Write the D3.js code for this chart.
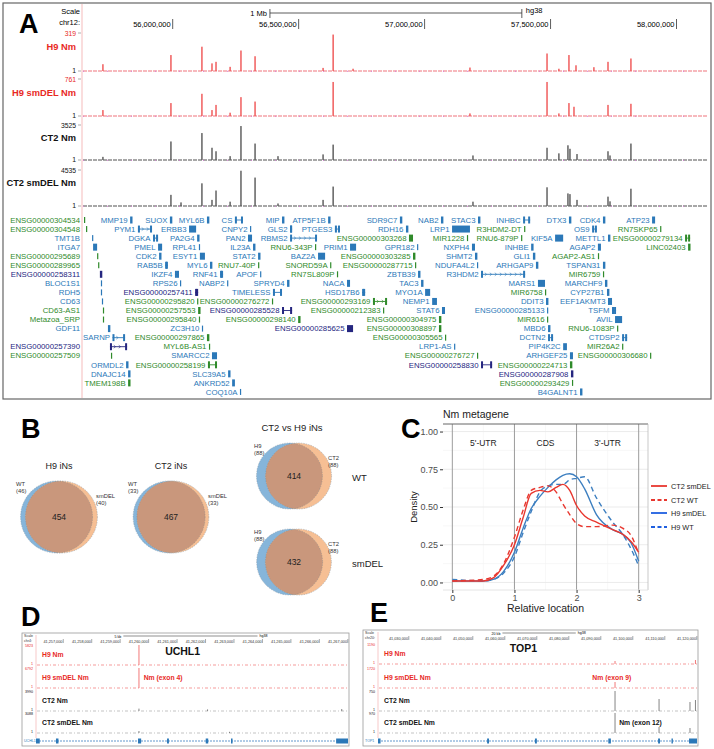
<!DOCTYPE html>
<html lang="en">
<head>
<meta charset="UTF-8">
<title>Nm figure</title>
<script src="https://cdn.jsdelivr.net/npm/d3@7"></script>
<style>
  body { margin: 0; background: #fff; font-family: "Liberation Sans", Arial, sans-serif; }
  svg { display: block; }
  text { font-family: "Liberation Sans", Arial, sans-serif; }
</style>
</head>
<body>
<svg id="fig" width="714" height="749"></svg>
<script>
// ---------------- data: panel A (chr12 browser) ----------------
const chromTicks = [56.0, 56.5, 57.0, 57.5, 58.0];
const trackNames = ["H9 Nm", "H9 smDEL Nm", "CT2 Nm", "CT2 smDEL Nm"];
const trackMax = [319, 761, 3525, 4535];
// [position Mb, signal]
const h9Nm = [[55.723,57],[55.993,134],[56.116,204],[56.156,64],[56.172,77],[56.228,35],[56.271,172],[56.327,124],[56.597,26],[56.637,306],[56.716,19],[57.180,29],[57.486,147],[57.533,19],[57.573,134],[57.601,48],[57.672,32],[57.728,77],[57.819,105]];
const h9SmDel = [[55.723,122],[55.993,266],[56.116,457],[56.156,122],[56.172,228],[56.228,68],[56.271,388],[56.327,297],[56.637,700],[57.180,53],[57.486,700],[57.533,53],[57.573,266],[57.593,190],[57.728,228],[57.819,251]];
const ct2Nm = [[55.723,317],[55.993,1868],[56.116,2714],[56.156,1234],[56.172,881],[56.228,388],[56.271,3419],[56.327,1657],[56.418,388],[56.597,564],[56.637,1551],[57.192,458],[57.486,1234],[57.533,670],[57.569,1481],[57.577,1128],[57.605,599],[57.728,881],[57.736,458],[57.819,1657]];
const ct2SmDel = [[55.993,1406],[56.033,454],[56.116,2857],[56.156,771],[56.172,1950],[56.228,544],[56.271,4444],[56.327,3583],[56.418,317],[56.597,771],[56.637,2449],[57.192,544],[57.486,2358],[57.569,1587],[57.577,1497],[57.605,771],[57.728,1179],[57.736,590],[57.819,2177]];
const trackSignals = [h9Nm, h9SmDel, ct2Nm, ct2SmDel];

// [name, start Mb, end Mb, row, biotype, structure]
const genes = [
  ["ENSG00000304534",55.648,55.648,0,"g","v"],["MMP19",55.831,55.834,0,"b","k"],["SUOX",55.989,55.991,0,"b","k"],["MYL6B",56.136,56.142,0,"b","k"],["CS",56.247,56.279,0,"b","i"],["MIP",56.434,56.436,0,"b","k"],["ATP5F1B",56.617,56.620,0,"b","k"],["SDR9C7",56.902,56.905,0,"b","k"],["NAB2",57.065,57.067,0,"b","k"],["STAC3",57.212,57.215,0,"b","k"],["INHBC",57.391,57.419,0,"b","i"],["DTX3",57.573,57.575,0,"b","k"],["CDK4",57.708,57.710,0,"b","k"],["ATP23",57.903,57.915,0,"b","k"],
  ["ENSG00000304548",55.656,55.656,1,"g","v"],["PYM1",55.862,55.918,1,"b","i"],["ERBB3",56.065,56.093,1,"b","k"],["CNPY2",56.307,56.307,1,"b","v"],["GLS2",56.466,56.474,1,"b","i"],["PTGES3",56.644,56.664,1,"b","i"],["RDH16",56.926,56.930,1,"b","k"],["LRP1",57.109,57.180,1,"b","k"],["R3HDM2-DT",57.395,57.395,1,"g","v"],["OS9",57.665,57.684,1,"b","i"],["RN7SKP65",57.935,57.935,1,"g","v"],
  ["TMT1B",55.680,55.680,2,"b","v"],["DGKA",55.922,55.942,2,"b","i"],["PA2G4",56.097,56.101,2,"b","k"],["PAN2",56.299,56.315,2,"b","k"],["RBMS2",56.466,56.573,2,"b","i"],["ENSG00000303268",56.938,56.954,2,"g","i"],["MIR1228",57.168,57.168,2,"g","v"],["RNU6-879P",57.383,57.383,2,"g","v"],["KIF5A",57.518,57.550,2,"b","k"],["METTL1",57.728,57.731,2,"b","k"],["ENSG00000279134",58.034,58.054,2,"g","i"],
  ["ITGA7",55.684,55.700,3,"b","k"],["PMEL",55.942,55.958,3,"b","k"],["RPL41",56.104,56.104,3,"b","v"],["IL23A",56.319,56.322,3,"b","k"],["RNU6-343P",56.565,56.565,3,"g","v"],["PRIM1",56.704,56.728,3,"b","k"],["GPR182",56.970,56.970,3,"b","v"],["NXPH4",57.188,57.200,3,"b","k"],["INHBE",57.423,57.426,3,"b","k"],["AGAP2",57.688,57.700,3,"b","k"],["LINC02403",58.046,58.048,3,"g","k"],
  ["ENSG00000295689",55.700,55.700,4,"g","v"],["CDK2",55.946,55.950,4,"b","k"],["ESYT1",56.108,56.128,4,"b","k"],["STAT2",56.339,56.345,4,"b","k"],["BAZ2A",56.577,56.605,4,"b","k"],["ENSG00000303285",56.954,56.956,4,"g","k"],["SHMT2",57.200,57.204,4,"b","k"],["GLI1",57.430,57.434,4,"b","k"],["AGAP2-AS1",57.688,57.688,4,"g","v"],
  ["ENSG00000289965",55.704,55.704,5,"g","v"],["RAB5B",55.970,55.981,5,"b","i"],["MYL6",56.148,56.152,5,"b","k"],["RNU7-40P",56.339,56.339,5,"g","v"],["SNORD59A",56.625,56.625,5,"g","v"],["ENSG00000287715",56.962,56.962,5,"g","v"],["NDUFA4L2",57.208,57.208,5,"b","v"],["ARHGAP9",57.442,57.446,5,"b","k"],["TSPAN31",57.708,57.711,5,"b","k"],
  ["ENSG00000258311",55.711,55.713,6,"n","k"],["IKZF4",56.009,56.025,6,"b","i"],["RNF41",56.188,56.200,6,"b","i"],["APOF",56.347,56.347,6,"b","v"],["RN7SL809P",56.652,56.652,6,"g","v"],["ZBTB39",56.974,56.977,6,"b","k"],["R3HDM2",57.224,57.399,6,"b","i"],["MIR6759",57.708,57.708,6,"g","v"],
  ["BLOC1S1",55.715,55.715,7,"b","v"],["RPS26",56.029,56.029,7,"b","v"],["NABP2",56.216,56.216,7,"b","v"],["SPRYD4",56.454,56.458,7,"b","k"],["NACA",56.692,56.704,7,"b","k"],["TAC3",56.986,56.990,7,"b","k"],["MARS1",57.450,57.478,7,"b","k"],["MARCHF9",57.716,57.719,7,"b","k"],
  ["RDH5",55.715,55.715,8,"b","v"],["ENSG00000257411",56.089,56.101,8,"n","i"],["TIMELESS",56.398,56.434,8,"b","i"],["HSD17B6",56.752,56.764,8,"b","i"],["MYO1A",57.002,57.022,8,"b","k"],["MIR6758",57.478,57.478,8,"g","v"],["CYP27B1",57.724,57.727,8,"b","k"],
  ["CD63",55.719,55.719,9,"b","v"],["ENSG00000295820",56.097,56.097,9,"g","v"],["ENSG00000276272",56.394,56.394,9,"g","v"],["ENSG00000293169",56.795,56.851,9,"g","i"],["NEMP1",57.030,57.049,9,"b","k"],["DDIT3",57.482,57.485,9,"b","k"],["EEF1AKMT3",57.728,57.744,9,"b","i"],
  ["CD63-AS1",55.723,55.723,10,"g","v"],["ENSG00000257553",56.101,56.104,10,"g","k"],["ENSG00000285528",56.434,56.474,10,"n","i"],["ENSG00000212383",56.835,56.835,10,"g","v"],["STAT6",57.069,57.081,10,"b","k"],["ENSG00000285133",57.486,57.486,10,"b","v"],["TSFM",57.744,57.760,10,"b","i"],
  ["Metazoa_SRP",55.723,55.723,11,"g","v"],["ENSG00000295840",56.104,56.104,11,"g","v"],["ENSG00000298140",56.498,56.501,11,"g","k"],["ENSG00000304975",57.057,57.059,11,"g","k"],["MIR616",57.486,57.486,11,"g","v"],["AVIL",57.756,57.784,11,"b","k"],
  ["GDF11",55.743,55.746,12,"b","k"],["ZC3H10",56.116,56.116,12,"b","v"],["ENSG00000285625",56.692,56.716,12,"n","k"],["ENSG00000308897",57.057,57.059,12,"g","k"],["MBD6",57.490,57.493,12,"b","k"],["RNU6-1083P",57.764,57.764,12,"g","v"],
  ["SARNP",55.761,55.811,13,"b","i"],["ENSG00000297865",56.136,56.139,13,"g","k"],["ENSG00000305565",57.081,57.081,13,"g","v"],["DCTN2",57.490,57.510,13,"b","i"],["CTDSP2",57.784,57.804,13,"b","i"],
  ["ENSG00000257390",55.751,55.819,14,"n","i"],["MYL6B-AS1",56.144,56.144,14,"g","v"],["LRP1-AS",57.117,57.117,14,"b","v"],["PIP4K2C",57.550,57.565,14,"b","k"],["MIR26A2",57.784,57.784,14,"g","v"],
  ["ENSG00000257509",55.755,55.755,15,"g","v"],["SMARCC2",56.156,56.176,15,"b","k"],["ENSG00000276727",57.208,57.208,15,"g","v"],["ARHGEF25",57.577,57.589,15,"b","k"],["ENSG00000306680",57.895,57.895,15,"g","v"],
  ["ORMDL2",55.815,55.818,16,"b","k"],["ENSG00000258199",56.140,56.176,16,"g","i"],["ENSG00000258830",57.224,57.268,16,"n","i"],["ENSG00000224713",57.577,57.579,16,"g","k"],
  ["DNAJC14",55.823,55.826,17,"b","k"],["SLC39A5",56.220,56.223,17,"b","k"],["ENSG00000287908",57.581,57.585,17,"n","k"],
  ["TMEM198B",55.823,55.826,18,"g","k"],["ANKRD52",56.236,56.247,18,"b","k"],["ENSG00000293429",57.585,57.585,18,"g","v"],
  ["COQ10A",56.267,56.267,19,"b","v"],["B4GALNT1",57.617,57.621,19,"b","k"]
];

// ---------------- data: panel B (Venn) ----------------
const vennTitles = ["H9 iNs", "CT2 iNs", "", ""];
const vennLeftNames = ["WT", "WT", "H9", "H9"];
const vennRightNames = ["smDEL", "smDEL", "CT2", "CT2"];
const vennLeftOnly = [46, 33, 88, 88];
const vennRightOnly = [40, 33, 88, 88];
const vennShared = [454, 467, 414, 432];
const vennSideLabels = ["", "", "WT", "smDEL"];

// ---------------- data: panel C (metagene) ----------------
const metaX = [0, 0.5, 0.66, 0.82, 1.0, 1.14, 1.27, 1.41, 1.54, 1.67, 1.78, 1.89, 2.0, 2.13, 2.32, 2.58, 2.74, 2.88, 3.0];
const ct2SmDelDensity = [0.01, 0.01, 0.03, 0.11, 0.25, 0.43, 0.59, 0.61, 0.60, 0.63, 0.65, 0.61, 0.51, 0.44, 0.40, 0.35, 0.32, 0.27, 0.20];
const ct2WtDensity = [0.01, 0.02, 0.04, 0.12, 0.30, 0.48, 0.61, 0.63, 0.64, 0.60, 0.52, 0.45, 0.39, 0.37, 0.37, 0.38, 0.36, 0.31, 0.19];
const h9SmDelDensity = [0.01, 0.01, 0.02, 0.07, 0.20, 0.36, 0.49, 0.57, 0.63, 0.68, 0.71, 0.72, 0.70, 0.62, 0.45, 0.35, 0.32, 0.26, 0.14];
const h9WtDensity = [0.02, 0.01, 0.02, 0.06, 0.17, 0.33, 0.47, 0.60, 0.64, 0.65, 0.65, 0.68, 0.69, 0.70, 0.56, 0.40, 0.32, 0.22, 0.11];
const metaSeries = ["CT2 smDEL", "CT2 WT", "H9 smDEL", "H9 WT"];
const metaRegions = ["5'-UTR", "CDS", "3'-UTR"];
const metaYTicks = [0, 0.25, 0.5, 0.75, 1.0];
const metaXTicks = [0, 1, 2, 3];

// ---------------- data: panels D and E (single-gene browsers) ----------------
const uchl1Ticks = ["41,257,000","41,258,000","41,259,000","41,260,000","41,261,000","41,262,000","41,263,000","41,264,000","41,265,000","41,266,000","41,267,000"];
const uchl1Max = ["5823", "6792", "3990", "3088"];
const uchl1Exons = [[0.0,0.012],[0.064,0.072],[0.327,0.337],[0.42,0.426],[0.544,0.552],[0.625,0.63],[0.962,1.0]];
const uchl1Peaks = [[[0.33,1.0]], [[0.33,1.0]], [[0.33,0.12],[0.55,0.08],[0.98,0.1]], [[0.33,0.1],[0.62,0.06]]];
const top1Ticks = ["41,030,000","41,040,000","41,050,000","41,060,000","41,070,000","41,080,000","41,090,000","41,100,000","41,110,000","41,120,000"];
const top1Max = ["1190", "1720", "750", "970"];
const top1Exons = [[0.0,0.008],[0.342,0.348],[0.492,0.498],[0.722,0.73],[0.878,0.884],[0.92,0.924],[0.975,1.0]];
const top1Peaks = [[[0.743,0.15],[0.995,0.2]], [[0.743,0.3]], [[0.743,1.0],[0.881,0.6],[0.978,0.45],[0.995,0.55]], [[0.743,1.0],[0.881,0.3],[0.978,0.25]]];

// ================= drawing =================
const svg = d3.select("#fig");
const RED = "#e8291f";

function panelLetter(t, x, y) {
  svg.append("text").attr("x", x).attr("y", y).attr("font-size", 27).attr("font-weight", "bold").text(t);
}

// ---------- Panel A ----------
const gA = svg.append("g");
gA.append("rect").attr("x", 3).attr("y", 3).attr("width", 708).attr("height", 396)
  .attr("fill", "#fff").attr("stroke", "#666").attr("stroke-width", 1.2);
const xA = d3.scaleLinear().domain([55.64, 58.125]).range([82, 708]);
gA.append("line").attr("x1", 82).attr("x2", 82).attr("y1", 4).attr("y2", 398).attr("stroke", "#f3a9a9").attr("stroke-width", 0.8);
panelLetter("A", 19, 33);

gA.append("text").attr("x", 80).attr("y", 14).attr("text-anchor", "end").attr("font-size", 7.5).text("Scale");
gA.append("text").attr("x", 80).attr("y", 25).attr("text-anchor", "end").attr("font-size", 7.5).text("chr12:");
const barStart = 56.386;
gA.append("line").attr("x1", xA(barStart)).attr("x2", xA(barStart + 1)).attr("y1", 13).attr("y2", 13).attr("stroke", "#333").attr("stroke-width", 0.8);
[barStart, barStart + 1].forEach(v => gA.append("line").attr("x1", xA(v)).attr("x2", xA(v)).attr("y1", 9).attr("y2", 18).attr("stroke", "#333").attr("stroke-width", 0.8));
gA.append("text").attr("x", xA(barStart) - 3).attr("y", 16).attr("text-anchor", "end").attr("font-size", 7.5).text("1 Mb");
gA.append("text").attr("x", xA(barStart + 1) + 4).attr("y", 13).attr("font-size", 7.5).text("hg38");
chromTicks.forEach(t => {
  gA.append("line").attr("x1", xA(t)).attr("x2", xA(t)).attr("y1", 19).attr("y2", 29).attr("stroke", "#333").attr("stroke-width", 0.8);
  gA.append("text").attr("x", xA(t) - 2).attr("y", 27).attr("text-anchor", "end").attr("font-size", 7.5)
    .text(d3.format(",")(Math.round(t * 1e6)));
});

const trackTop = [33, 79, 125, 170], trackBase = [71, 116, 160, 206];
trackNames.forEach((name, i) => {
  const isH9 = i < 2;
  const y = d3.scaleLinear().domain([0, trackMax[i]]).range([trackBase[i], trackTop[i]]);
  const lc = isH9 ? RED : "#111";
  gA.append("text").attr("x", 76).attr("y", (trackTop[i] + trackBase[i]) / 2 - 2).attr("text-anchor", "end")
    .attr("font-size", 9.3).attr("font-weight", "bold").attr("fill", lc).text(name);
  gA.append("text").attr("x", 76).attr("y", trackTop[i] + 2.5).attr("text-anchor", "end").attr("font-size", 6.8).attr("fill", lc).text(trackMax[i]);
  gA.append("text").attr("x", 76).attr("y", trackBase[i] + 1.5).attr("text-anchor", "end").attr("font-size", 6.8).attr("fill", "#111").text("1");
  [trackTop[i], trackBase[i]].forEach(v => gA.append("line").attr("x1", 78).attr("x2", 81).attr("y1", v).attr("y2", v).attr("stroke", "#777").attr("stroke-width", 0.6));
  gA.append("line").attr("x1", 83).attr("x2", 707).attr("y1", trackBase[i]).attr("y2", trackBase[i])
    .attr("stroke", isH9 ? "#f5a3a8" : "#8a8a8a").attr("stroke-width", 1.3).attr("stroke-dasharray", "4,1");
  gA.append("line").attr("x1", 83).attr("x2", 707).attr("y1", trackBase[i] + 0.3).attr("y2", trackBase[i] + 0.3)
    .attr("stroke", "#d77fd6").attr("stroke-width", 1).attr("stroke-dasharray", "1,23");
  gA.selectAll(null).data(trackSignals[i]).join("rect")
    .attr("x", d => xA(d[0]) - 0.8).attr("width", 1.6)
    .attr("y", d => y(d[1])).attr("height", d => trackBase[i] - y(d[1]))
    .attr("fill", isH9 ? "#f05858" : "#5c5c5c").attr("opacity", 0.9);
});

const geneColor = { g: "#2f8a2a", b: "#2b78b8", n: "#25267f" };
const rowY = r => 220 + r * 9.05;
genes.forEach(([name, s, e, row, type, shape]) => {
  const x0 = xA(s), x1 = xA(e), y = rowY(row), c = geneColor[type];
  if (shape === "i") {
    gA.append("line").attr("x1", x0).attr("x2", x1).attr("y1", y).attr("y2", y).attr("stroke", c).attr("stroke-width", 0.9);
    gA.append("rect").attr("x", x0).attr("y", y - 3.5).attr("width", 2).attr("height", 7).attr("fill", c);
    gA.append("rect").attr("x", x1 - 2).attr("y", y - 3.5).attr("width", 2).attr("height", 7).attr("fill", c);
    if (x1 - x0 > 12) {
      for (let xx = x0 + 5; xx < x1 - 4; xx += 5) {
        gA.append("path").attr("d", `M${xx - 1.2},${y - 1.5}L${xx + 0.6},${y}L${xx - 1.2},${y + 1.5}`).attr("fill", "none").attr("stroke", c).attr("stroke-width", 0.6);
      }
    }
  } else if (shape === "k") {
    gA.append("rect").attr("x", x0).attr("y", y - 3.5).attr("width", Math.max(x1 - x0, 2.4)).attr("height", 7).attr("fill", c);
  } else {
    gA.append("rect").attr("x", x0).attr("y", y - 3).attr("width", 1.2).attr("height", 6).attr("fill", c);
  }
  const t = gA.append("text").attr("x", x0 - 2.5).attr("y", y).attr("dy", "0.35em").attr("text-anchor", "end")
    .attr("font-size", 7.8).attr("fill", c).text(name);
  if (x0 - 2.5 - t.node().getComputedTextLength() < 82) t.attr("x", 80);
});

// ---------- Panel B ----------
panelLetter("B", 21, 438);
const vennCenters = [[59, 517], [171, 517], [294, 476], [294, 562]];
const vennRadius = [36, 36, 33, 33];
const lens = (d, r) => { const h = d / (2 * r); return (2 * Math.acos(h) - 2 * h * Math.sqrt(1 - h * h)) / Math.PI; };
const defs = svg.append("defs");
vennShared.forEach((both, i) => {
  const r = vennRadius[i], [cx, cy] = vennCenters[i];
  const frac = both / (both + (vennLeftOnly[i] + vennRightOnly[i]) / 2);
  let lo = 0, hi = 2 * r;
  for (let k = 0; k < 40; k++) { const m = (lo + hi) / 2; if (lens(m, r) > frac) lo = m; else hi = m; }
  const d = (lo + hi) / 2;
  const ax = cx - d / 2, bx = cx + d / 2;
  const g = svg.append("g");
  defs.append("clipPath").attr("id", "vc" + i).append("circle").attr("cx", ax).attr("cy", cy).attr("r", r);
  g.append("circle").attr("cx", ax).attr("cy", cy).attr("r", r).attr("fill", "#86b5da");
  g.append("circle").attr("cx", bx).attr("cy", cy).attr("r", r).attr("fill", "#f6bf94");
  g.append("circle").attr("cx", bx).attr("cy", cy).attr("r", r).attr("fill", "#c9977c").attr("clip-path", `url(#vc${i})`);
  [ax, bx].forEach(x => g.append("circle").attr("cx", x).attr("cy", cy).attr("r", r).attr("fill", "none")
    .attr("stroke", "#6a7a8a").attr("stroke-width", 0.5).attr("stroke-dasharray", "1.5,1").attr("opacity", 0.7));
  g.append("text").attr("x", cx).attr("y", cy + 3).attr("text-anchor", "middle").attr("font-size", 8.5).attr("fill", "#222").text(both);
  const sm = 5.8;
  g.append("text").attr("x", cx - r - 7).attr("y", cy - r + 5).attr("font-size", sm).attr("fill", "#333").text(vennLeftNames[i]);
  g.append("text").attr("x", cx - r - 7).attr("y", cy - r + 12).attr("font-size", sm).attr("fill", "#333").text(`(${vennLeftOnly[i]})`);
  g.append("text").attr("x", cx + r + 1).attr("y", cy - r + 17).attr("font-size", sm).attr("fill", "#333").text(vennRightNames[i]);
  g.append("text").attr("x", cx + r + 1).attr("y", cy - r + 24).attr("font-size", sm).attr("fill", "#333").text(`(${vennRightOnly[i]})`);
  if (vennTitles[i]) g.append("text").attr("x", cx).attr("y", cy - r - 12).attr("text-anchor", "middle").attr("font-size", 9).attr("fill", "#222").text(vennTitles[i]);
  if (vennSideLabels[i]) g.append("text").attr("x", 352).attr("y", cy + 5).attr("font-size", 9.5).attr("fill", "#222").text(vennSideLabels[i]);
});
svg.append("text").attr("x", 292).attr("y", 431).attr("text-anchor", "middle").attr("font-size", 9.5).attr("fill", "#222").text("CT2 vs H9 iNs");

// ---------- Panel C ----------
panelLetter("C", 401, 438);
const gC = svg.append("g");
const xC = d3.scaleLinear().domain([-0.15, 3.15]).range([443, 648]);
const yC = d3.scaleLinear().domain([-0.05, 1.05]).range([590, 424]);
gC.append("rect").attr("x", 443).attr("y", 424).attr("width", 205).attr("height", 166).attr("fill", "#fff");
[0.125, 0.375, 0.625, 0.875].forEach(v => gC.append("line").attr("x1", 443).attr("x2", 648).attr("y1", yC(v)).attr("y2", yC(v)).attr("stroke", "#f3f3f3").attr("stroke-width", 0.6));
[0.5, 1.5, 2.5].forEach(v => gC.append("line").attr("x1", xC(v)).attr("x2", xC(v)).attr("y1", 424).attr("y2", 590).attr("stroke", "#f3f3f3").attr("stroke-width", 0.6));
metaYTicks.forEach(v => gC.append("line").attr("x1", 443).attr("x2", 648).attr("y1", yC(v)).attr("y2", yC(v)).attr("stroke", "#e9e9e9").attr("stroke-width", 0.9));
metaXTicks.forEach(v => gC.append("line").attr("x1", xC(v)).attr("x2", xC(v)).attr("y1", 424).attr("y2", 590).attr("stroke", "#9c9c9c").attr("stroke-width", 1));
gC.append("line").attr("x1", 443).attr("x2", 648).attr("y1", 424).attr("y2", 424).attr("stroke", "#666").attr("stroke-width", 1);
gC.append("line").attr("x1", 648).attr("x2", 648).attr("y1", 424).attr("y2", 590).attr("stroke", "#bbb").attr("stroke-width", 0.8);
gC.append("line").attr("x1", 443).attr("x2", 648).attr("y1", 590).attr("y2", 590).attr("stroke", "#ddd").attr("stroke-width", 0.8);
metaRegions.forEach((t, i) => gC.append("text").attr("x", xC(i + 0.5)).attr("y", 446).attr("text-anchor", "middle")
  .attr("font-size", 8.5).attr("fill", "#222").text(t));
const axL = gC.append("g").attr("transform", "translate(443,0)")
  .call(d3.axisLeft(yC).tickValues(metaYTicks).tickFormat(d3.format(".2f")).tickSize(3).tickPadding(2));
const axB = gC.append("g").attr("transform", "translate(0,590)")
  .call(d3.axisBottom(xC).tickValues(metaXTicks).tickFormat(d3.format("d")).tickSize(3).tickPadding(2));
[axL, axB].forEach(a => {
  a.select(".domain").remove();
  a.selectAll("line").attr("stroke", "#333");
  a.selectAll("text").attr("font-size", 9).attr("fill", "#4d4d4d").attr("font-family", "Liberation Sans, Arial, sans-serif");
});
gC.append("text").attr("x", 443).attr("y", 418).attr("font-size", 10.5).attr("fill", "#222").text("Nm metagene");
gC.append("text").attr("x", xC(1.5)).attr("y", 612).attr("text-anchor", "middle").attr("font-size", 10.5).attr("fill", "#222").text("Relative location");
gC.append("text").attr("transform", `translate(417,${yC(0.5)}) rotate(-90)`).attr("text-anchor", "middle").attr("font-size", 9.5).attr("fill", "#222").text("Density");
const seriesVals = [ct2SmDelDensity, ct2WtDensity, h9SmDelDensity, h9WtDensity];
const seriesColor = ["#e8372f", "#e8372f", "#3d7fc0", "#3d7fc0"];
const seriesDash = [null, "5,3.5", null, "5,3.5"];
const lineC = d3.line().x(d => xC(d[0])).y(d => yC(d[1])).curve(d3.curveMonotoneX);
[3, 2, 1, 0].forEach(i => {
  gC.append("path").datum(metaX.map((x, k) => [x, seriesVals[i][k]]))
    .attr("d", lineC).attr("fill", "none").attr("stroke", seriesColor[i]).attr("stroke-width", 1.4)
    .attr("stroke-dasharray", seriesDash[i]);
});
const legY = [486, 500, 513, 527];
const legColor = ["#e8372f", "#e8372f", "#1f5fe0", "#1f5fe0"];
metaSeries.forEach((s, i) => {
  gC.append("line").attr("x1", 651).attr("x2", 667).attr("y1", legY[i]).attr("y2", legY[i])
    .attr("stroke", legColor[i]).attr("stroke-width", 1.8).attr("stroke-dasharray", seriesDash[i] ? "4,2.5" : null);
  gC.append("text").attr("x", 671).attr("y", legY[i] + 2.5).attr("font-size", 7.3).attr("fill", "#222").text(s);
});

// ---------- Panels D and E ----------
function drawBrowser(o) {
  const g = svg.append("g");
  g.append("rect").attr("x", o.x).attr("y", o.y).attr("width", o.w).attr("height", o.h).attr("fill", "#fff").attr("stroke", "#999").attr("stroke-width", 0.8);
  const x = d3.scaleLinear().domain([0, 1]).range([o.left, o.x + o.w - 1]);
  g.append("line").attr("x1", o.left).attr("x2", o.left).attr("y1", o.y + 2).attr("y2", o.y + o.h - 8).attr("stroke", "#f4b3b3").attr("stroke-width", 0.7);
  g.append("text").attr("x", o.x + 2).attr("y", o.y + 4).attr("font-size", 3.6).attr("fill", "#333").text("Scale");
  g.append("text").attr("x", o.x + 2).attr("y", o.y + 8.5).attr("font-size", 3.6).attr("fill", "#333").text(o.chrom);
  g.append("line").attr("x1", x(o.bar[0])).attr("x2", x(o.bar[1])).attr("y1", o.y + 3).attr("y2", o.y + 3).attr("stroke", "#444").attr("stroke-width", 0.6);
  g.append("text").attr("x", x(o.bar[0]) - 2).attr("y", o.y + 4.5).attr("text-anchor", "end").attr("font-size", 3.6).text(o.barLabel);
  g.append("text").attr("x", x(o.bar[1]) + 2).attr("y", o.y + 4).attr("font-size", 3.6).text("hg38");
  const tx = d3.scaleBand().domain(o.ticks).range([o.left, o.x + o.w]);
  o.ticks.forEach(t => {
    g.append("text").attr("x", tx(t) + tx.bandwidth() - 2).attr("y", o.y + 9.5).attr("text-anchor", "end").attr("font-size", 3.8).attr("fill", "#333").text(t);
    g.append("line").attr("x1", tx(t) + tx.bandwidth() - 1.2).attr("x2", tx(t) + tx.bandwidth() - 1.2).attr("y1", o.y + 6).attr("y2", o.y + 10).attr("stroke", "#555").attr("stroke-width", 0.5);
  });
  g.append("text").attr("x", x(o.titlePos)).attr("y", o.y + 22).attr("text-anchor", "middle").attr("font-size", 10.5).attr("font-weight", "bold").attr("fill", "#111").text(o.title);
  trackNames.forEach((name, i) => {
    const isH9 = i < 2, base = o.base[i], top = base - 20;
    const y = d3.scaleLinear().domain([0, 1]).range([base, top]);
    const c = isH9 ? RED : "#111";
    g.append("line").attr("x1", o.left + 1).attr("x2", o.x + o.w - 1).attr("y1", base).attr("y2", base)
      .attr("stroke", isH9 ? "#f07070" : "#aaa").attr("stroke-width", 0.7).attr("stroke-dasharray", "3,2,1,2");
    g.selectAll(null).data(o.peaks[i]).join("rect").attr("x", d => x(d[0]) - 0.45).attr("width", 0.9)
      .attr("y", d => y(d[1])).attr("height", d => base - y(d[1])).attr("fill", isH9 ? "#f06a6a" : "#777");
    g.append("text").attr("x", o.left + 6).attr("y", base - 8).attr("font-size", 6.8).attr("font-weight", "bold").attr("fill", c).text(name);
    g.append("text").attr("x", o.left - 3).attr("y", top + 2).attr("text-anchor", "end").attr("font-size", 3.6).attr("fill", c).text(o.max[i]);
    g.append("text").attr("x", o.left - 3).attr("y", base).attr("text-anchor", "end").attr("font-size", 3.6).attr("fill", c).text("1");
  });
  o.notes.forEach(([t, track, pos, col]) => g.append("text").attr("x", x(pos)).attr("y", o.base[track] - 8)
    .attr("font-size", 6.8).attr("font-weight", "bold").attr("fill", col).text(t));
  const gy = o.y + o.h - 5;
  g.append("text").attr("x", o.x + 2).attr("y", gy + 1.3).attr("font-size", 3.6).attr("fill", "#2b78b8").text(o.title);
  g.append("line").attr("x1", x(0)).attr("x2", x(1)).attr("y1", gy).attr("y2", gy).attr("stroke", "#3a7fc0").attr("stroke-width", 0.8).attr("stroke-dasharray", "2,1");
  g.selectAll(null).data(o.exons).join("rect").attr("x", d => x(d[0])).attr("width", d => Math.max(x(d[1]) - x(d[0]), 1.4))
    .attr("y", gy - 2.5).attr("height", 5).attr("fill", "#2b78b8");
}
panelLetter("D", 21, 626);
drawBrowser({ x: 22, y: 633, w: 327, h: 113, left: 36, chrom: "chr4:", ticks: uchl1Ticks, bar: [0.28, 0.71], barLabel: "5 kb",
  title: "UCHL1", titlePos: 0.47, base: [665, 688, 711, 733], max: uchl1Max, peaks: uchl1Peaks, exons: uchl1Exons,
  notes: [["Nm (exon 4)", 1, 0.345, RED]] });
panelLetter("E", 370, 622);
drawBrowser({ x: 363, y: 630, w: 335, h: 116, left: 378, chrom: "chr20:", ticks: top1Ticks, bar: [0.39, 0.62], barLabel: "20 kb",
  title: "TOP1", titlePos: 0.456, base: [664, 688, 711, 733], max: top1Max, peaks: top1Peaks, exons: top1Exons,
  notes: [["Nm (exon 9)", 1, 0.672, RED], ["Nm (exon 12)", 3, 0.756, "#111"]] });
</script>
</body>
</html>
